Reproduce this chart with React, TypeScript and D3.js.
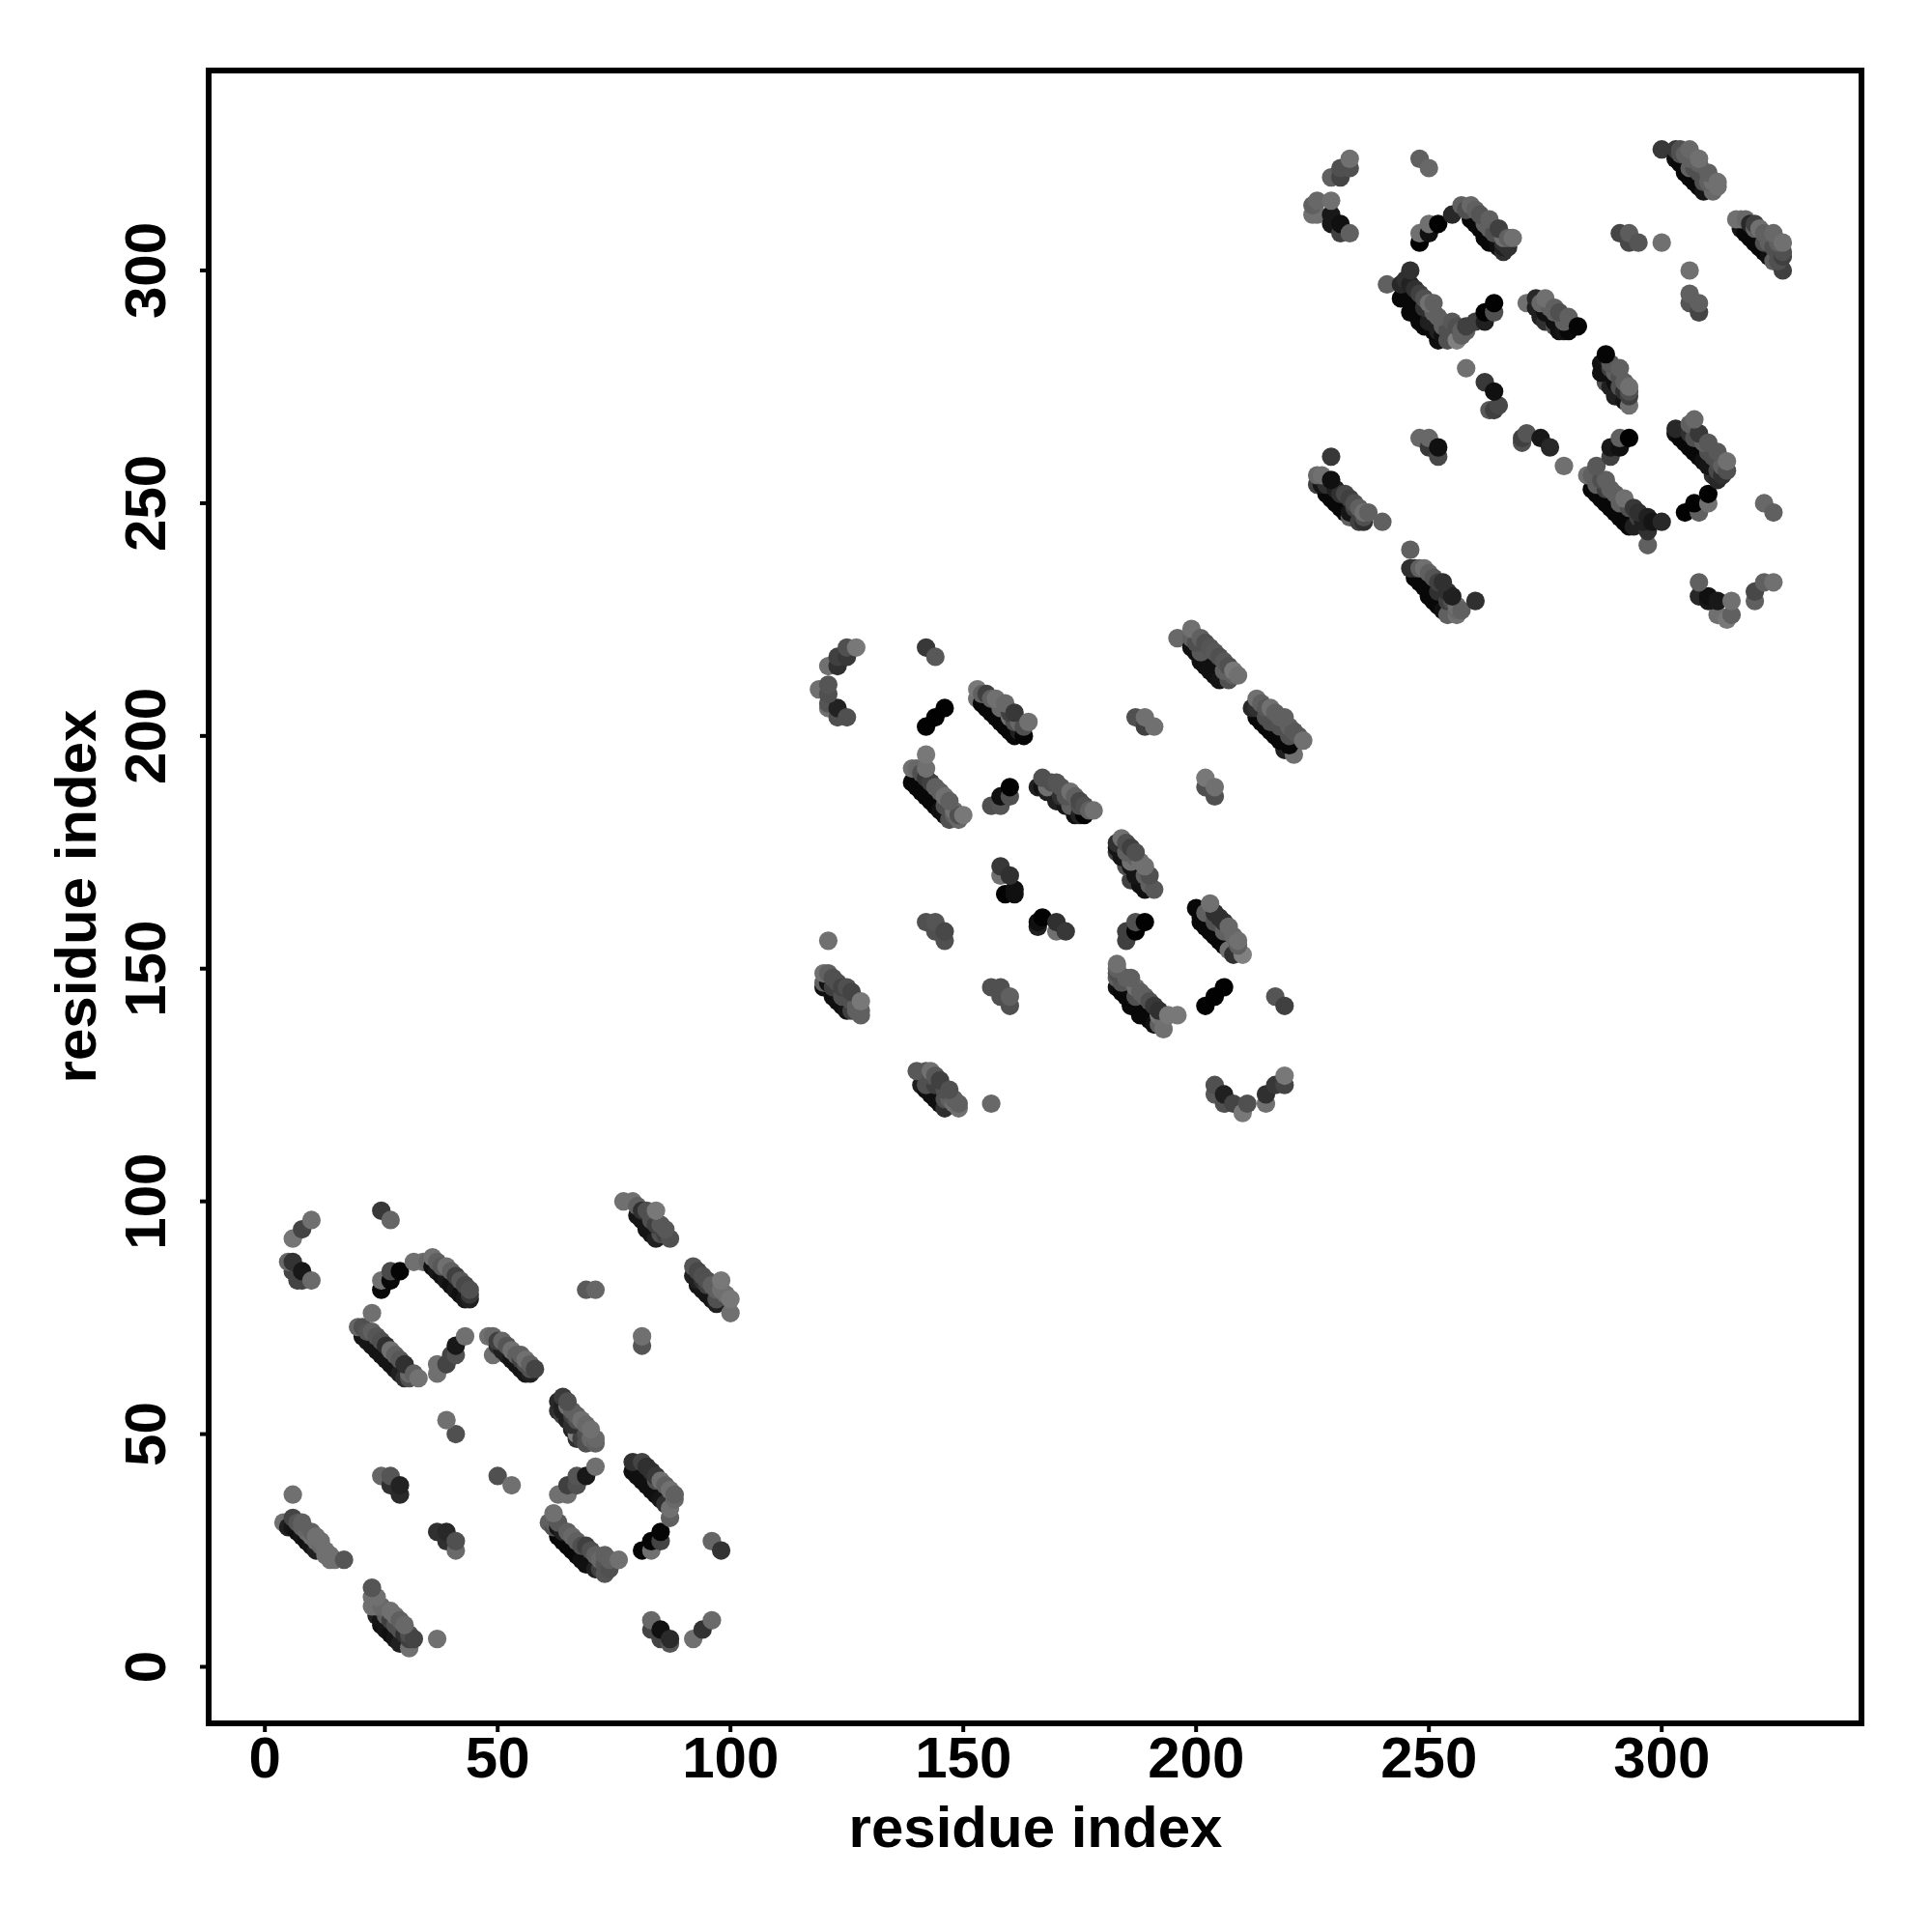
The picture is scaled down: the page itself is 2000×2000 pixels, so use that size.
import React from "react";
import * as d3 from "d3";

type P = [number, number, number];

const tickValues = [0, 50, 100, 150, 200, 250, 300];
const axisTitle = "residue index";

// [residue x, residue y, gray level]
const domainA: P[] = [
[10,96,0x70],[8,94,0x44],[6,92,0x75],[5,87,0x66],[6,87,0x33],[6,85,0x44],[7,83,0x44],[8,83,0x44],[8,85,0x18],[10,83,0x6a],
[25,98,0x38],[27,96,0x66],
[25,81,0x08],[25,83,0x70],[27,83,0x08],[27,85,0x4a],[29,85,0x05],[32,87,0x70],[34,87,0x70],[35,87,0x66],[36,88,0x70],
[36,86,0x10],[37,85,0x18],[38,84,0x10],[39,83,0x18],[40,82,0x10],[41,81,0x18],[42,80,0x10],[43,79,0x18],[44,79,0x20],
[37,87,0x60],[38,86,0x58],[39,86,0x70],[40,85,0x60],[41,84,0x40],[42,83,0x58],[43,82,0x48],[44,81,0x50],[44,80,0x38],
[23,76,0x70],[20,73,0x66],[21,73,0x50],[21,71,0x15],[22,70,0x15],[23,69,0x15],[24,68,0x15],[25,67,0x15],[26,66,0x15],[27,65,0x15],[28,64,0x15],[29,63,0x20],[30,62,0x30],[31,62,0x50],
[22,72,0x55],[23,72,0x60],[24,71,0x55],[25,70,0x50],[26,69,0x30],[27,68,0x70],[28,67,0x60],[29,66,0x58],[30,65,0x30],[31,63,0x68],[32,63,0x60],[33,62,0x72],
[37,63,0x70],[37,65,0x70],[39,65,0x44],[40,67,0x44],[41,67,0x50],[41,69,0x18],[43,71,0x70],
[48,71,0x70],[49,71,0x68],[49,67,0x70],[50,69,0x30],[52,67,0x20],[54,65,0x15],[56,63,0x18],[57,63,0x20],[51,70,0x66],[53,68,0x70],[55,66,0x40],[56,66,0x70],[58,64,0x44],
[50,70,0x40],[51,68,0x20],[53,66,0x15],[55,64,0x15],[56,65,0x50],[57,64,0x50],[52,69,0x55],[54,67,0x60],[55,67,0x60],[57,65,0x60],
[64,58,0x3a],[63,57,0x28],[63,55,0x30],[65,56,0x70],[64,54,0x40],[66,52,0x30],[68,53,0x70],[70,51,0x70],[67,50,0x80],[71,49,0x68],[69,50,0x50],[66,54,0x40],[67,53,0x50],
[64,56,0x20],[64,55,0x20],[65,53,0x20],[66,51,0x20],[67,49,0x30],[68,49,0x40],[69,48,0x50],[65,57,0x50],[66,55,0x60],[67,54,0x60],[69,52,0x68],[70,49,0x68],[71,48,0x60],
[39,53,0x70],[41,50,0x50],
[71,43,0x70],[69,41,0x18],[67,41,0x55],[67,39,0x50],[65,39,0x40],[63,37,0x70],[65,37,0x70],
[79,44,0x30],[81,44,0x44],[79,42,0x10],[81,40,0x10],[83,38,0x10],[85,36,0x15],[83,42,0x30],[84,41,0x38],[85,40,0x70],[87,38,0x70],[88,36,0x68],[87,34,0x70],[87,32,0x60],
[80,41,0x10],[82,39,0x10],[84,37,0x10],[86,35,0x30],[82,43,0x30],[84,40,0x50],[86,39,0x60],[88,37,0x60],
[81,25,0x05],[83,25,0x70],[83,27,0x05],[85,27,0x44],[85,29,0x05],
[96,27,0x66],[98,25,0x33],
[62,33,0x70],[62,31,0x60],[61,31,0x60],[63,31,0x58],[63,28,0x05],[65,26,0x08],[67,24,0x08],[69,22,0x10],[71,21,0x20],[64,29,0x20],[66,28,0x68],[67,27,0x60],[69,26,0x40],[70,25,0x50],[72,23,0x68],[73,22,0x55],[73,20,0x55],[76,23,0x70],
[62,30,0x50],[63,30,0x15],[64,27,0x08],[66,25,0x08],[68,23,0x10],[65,29,0x60],[68,26,0x50],[71,24,0x60],[72,21,0x40],[74,21,0x50],[74,23,0x60],[73,24,0x60],
[50,41,0x50],[53,39,0x70],
[25,41,0x66],[27,41,0x55],[27,39,0x30],[29,39,0x22],[29,37,0x2a],
[37,29,0x30],[39,29,0x28],[39,27,0x30],[41,27,0x50],[41,25,0x6a],
[6,37,0x70],
[4,31,0x70],[6,32,0x44],[6,30,0x15],[8,28,0x15],[10,26,0x15],[7,31,0x55],[8,30,0x60],[9,29,0x68],[10,28,0x70],[11,28,0x70],[12,27,0x70],[13,25,0x70],[14,24,0x70],[15,23,0x70],[17,23,0x55],
[5,30,0x20],[7,29,0x10],[9,27,0x10],[11,25,0x20],[8,31,0x60],[10,29,0x60],[12,26,0x68],[13,24,0x70],[14,23,0x70],[11,27,0x70],
[23,17,0x55],[23,15,0x70],[23,13,0x70],[24,13,0x70],[25,10,0x15],[26,8,0x15],[28,6,0x15],[30,5,0x20],[25,13,0x68],[27,12,0x70],[28,11,0x70],[29,10,0x60],[30,9,0x68],[31,7,0x50],[31,4,0x70],[32,6,0x44],[37,6,0x70],
[24,11,0x20],[25,9,0x10],[27,7,0x10],[29,5,0x20],[26,11,0x60],[27,10,0x40],[28,9,0x50],[29,8,0x50],[30,7,0x30],[31,6,0x40],[24,15,0x70],
[83,10,0x68],[83,8,0x44],[85,6,0x44],[85,8,0x10],[87,5,0x55],[87,6,0x2a],[92,6,0x70],[94,8,0x33],[96,10,0x6a],
[77,100,0x70],[79,100,0x70],[80,99,0x60],[80,97,0x15],[82,95,0x15],[83,93,0x15],[81,98,0x30],[84,98,0x78],[83,96,0x50],[85,95,0x58],[86,93,0x40],[87,92,0x50],
[81,96,0x15],[82,94,0x15],[84,92,0x20],[82,98,0x50],[85,93,0x50],[84,95,0x40],[86,94,0x58],
[69,81,0x5a],[71,81,0x66],[81,71,0x70],[81,69,0x55],
[92,86,0x55],[93,85,0x48],[93,83,0x20],[94,81,0x15],[96,79,0x15],[94,84,0x50],[95,83,0x50],[96,82,0x60],[98,83,0x78],[99,80,0x70],[100,79,0x78],[100,76,0x70],
[92,84,0x20],[93,82,0x15],[95,80,0x15],[97,78,0x20],[94,83,0x30],[95,82,0x40],[97,81,0x60],[98,81,0x70],[97,79,0x50],
];

const domainB: P[] = [
[127,219,0x78],[125,219,0x50],[123,217,0x40],[125,217,0x38],[121,215,0x70],[123,215,0x30],
[119,210,0x70],[121,211,0x55],[121,209,0x50],[121,207,0x55],[121,206,0x70],[123,206,0x22],[123,204,0x50],[125,204,0x50],
[142,219,0x38],[144,217,0x58],
[142,202,0x02],[144,204,0x02],[146,206,0x02],
[153,210,0x78],[153,208,0x70],[155,206,0x08],[157,204,0x08],[159,202,0x08],[161,200,0x08],[163,200,0x05],[155,209,0x40],[157,208,0x70],[159,207,0x68],[161,205,0x38],[162,203,0x68],[164,203,0x70],
[154,207,0x08],[156,205,0x08],[158,203,0x08],[160,201,0x08],[156,208,0x60],[158,206,0x68],[160,205,0x40],[160,204,0x70],[161,203,0x50],[162,201,0x20],[163,202,0x50],[154,209,0x60],
[139,193,0x70],[140,193,0x68],[139,190,0x08],[141,188,0x08],[143,186,0x08],[145,184,0x10],[142,196,0x78],[142,193,0x70],[142,191,0x38],[144,189,0x60],[146,187,0x70],[147,182,0x50],[148,184,0x70],[149,182,0x68],[150,183,0x78],
[140,189,0x08],[142,187,0x08],[144,185,0x08],[146,183,0x10],[141,192,0x50],[143,190,0x40],[145,188,0x60],[146,185,0x50],[147,186,0x60],[148,183,0x60],[149,183,0x50],
[160,189,0x02],[158,187,0x10],[160,187,0x50],[156,185,0x50],[158,185,0x55],
[166,189,0x20],[167,191,0x50],[168,189,0x70],[170,190,0x55],[171,187,0x30],[173,188,0x70],[173,185,0x60],[175,183,0x22],[175,186,0x48],[176,183,0x02],[178,184,0x70],
[167,189,0x10],[168,188,0x20],[170,186,0x20],[172,185,0x15],[174,183,0x10],[169,190,0x50],[171,189,0x55],[172,187,0x55],[174,187,0x60],[175,185,0x50],[176,185,0x50],[177,184,0x60],
[183,177,0x30],[183,175,0x40],[184,178,0x70],[185,172,0x50],[186,176,0x40],[186,169,0x40],[188,173,0x70],[189,167,0x10],[190,170,0x50],[191,167,0x58],
[183,176,0x15],[184,174,0x15],[186,172,0x15],[187,170,0x15],[188,168,0x10],[185,177,0x50],[187,175,0x50],[187,174,0x60],[189,172,0x70],[189,170,0x60],[190,168,0x60],[185,175,0x60],[186,173,0x70],
[158,172,0x38],[158,170,0x70],[160,170,0x30],[159,166,0x02],[161,167,0x10],[161,166,0x10],
[142,160,0x50],[144,160,0x55],[144,158,0x50],[146,158,0x48],[146,156,0x50],
[121,156,0x70],
[166,159,0x20],[166,160,0x10],[167,161,0x02],[170,158,0x70],[170,160,0x30],[172,158,0x38],
[185,156,0x40],[185,158,0x40],[187,160,0x50],[187,158,0x02],[189,160,0x02],
[200,163,0x08],[201,160,0x08],[203,158,0x08],[205,156,0x08],[202,162,0x60],[203,164,0x70],[205,161,0x30],[207,159,0x68],[207,154,0x70],[209,156,0x70],[210,153,0x80],
[201,161,0x08],[202,159,0x08],[204,157,0x08],[206,155,0x08],[208,153,0x30],[204,162,0x30],[206,160,0x30],[208,157,0x68],[206,158,0x60],[209,155,0x60],[204,160,0x50],
[202,142,0x02],[204,144,0x02],[206,146,0x02],
[217,144,0x55],[219,142,0x40],
[183,151,0x70],[183,150,0x60],[183,148,0x60],[183,146,0x10],[185,144,0x08],[188,141,0x08],[190,139,0x08],[184,147,0x55],[186,148,0x60],[187,146,0x70],[189,144,0x60],[191,142,0x38],[193,137,0x70],[192,140,0x78],[194,140,0x78],[196,140,0x78],
[184,145,0x08],[186,142,0x08],[188,140,0x08],[191,138,0x10],[185,148,0x60],[187,144,0x50],[188,145,0x60],[190,143,0x50],[192,141,0x30],[193,139,0x70],[183,149,0x50],[192,138,0x60],
[204,125,0x50],[204,123,0x58],[206,123,0x20],[206,121,0x50],[208,121,0x44],[210,119,0x78],[211,121,0x50],[215,121,0x70],[215,123,0x30],[217,125,0x38],[219,125,0x44],[219,127,0x78],
[120,149,0x70],[121,149,0x60],[120,147,0x60],[120,146,0x10],[122,144,0x10],[124,142,0x10],[122,148,0x50],[124,146,0x44],[126,145,0x44],[128,140,0x60],[128,143,0x78],
[121,147,0x10],[123,143,0x10],[125,141,0x15],[122,146,0x40],[123,147,0x50],[124,144,0x50],[125,146,0x50],[126,143,0x50],[127,142,0x60],[127,141,0x60],[128,141,0x60],[126,141,0x40],
[156,146,0x50],[158,146,0x50],[158,144,0x50],[160,144,0x60],[160,142,0x50],
[140,128,0x58],[142,128,0x58],[143,128,0x70],[142,125,0x50],[141,125,0x20],[143,123,0x10],[145,121,0x10],[145,126,0x40],[147,124,0x50],[148,121,0x70],[149,120,0x70],
[142,124,0x10],[144,122,0x10],[146,120,0x30],[143,127,0x50],[144,125,0x40],[146,124,0x50],[146,122,0x50],[147,122,0x60],[148,122,0x60],[149,121,0x60],[144,127,0x58],
[156,121,0x68],
[187,204,0x50],[189,204,0x70],[189,202,0x40],[191,202,0x70],
[202,191,0x78],[202,189,0x50],[204,189,0x70],[204,187,0x50],
[196,221,0x68],[199,223,0x70],[199,221,0x60],[200,218,0x10],[202,215,0x10],[204,213,0x10],[201,221,0x60],[201,218,0x58],[203,219,0x55],[206,216,0x58],[207,212,0x50],[208,214,0x78],
[199,219,0x10],[201,216,0x10],[203,214,0x10],[205,212,0x15],[202,220,0x50],[204,218,0x58],[205,217,0x50],[206,214,0x60],[207,215,0x50],[208,213,0x60],[209,213,0x70],[200,220,0x50],
[213,208,0x70],[212,206,0x28],[213,204,0x08],[215,202,0x08],[217,200,0x08],[220,198,0x08],[216,206,0x70],[219,204,0x60],[221,196,0x70],[221,201,0x58],[223,199,0x70],
[213,206,0x30],[214,203,0x08],[216,201,0x08],[218,199,0x08],[219,197,0x20],[214,207,0x60],[215,206,0x58],[217,205,0x60],[218,204,0x60],[220,202,0x60],[222,200,0x58],[218,202,0x50],[220,200,0x50],[215,204,0x50],[216,203,0x50],
];

const domainC: P[] = [
[233,324,0x70],[231,322,0x50],[233,322,0x50],[229,320,0x60],[231,320,0x44],
[225,314,0x60],[226,315,0x68],[229,315,0x70],[225,312,0x70],[226,312,0x70],[229,312,0x18],[229,310,0x18],[231,310,0x10],[231,308,0x40],[233,308,0x60],
[248,324,0x60],[250,322,0x68],
[248,306,0x02],[248,308,0x70],[250,308,0x10],[250,310,0x70],[252,310,0x02],[255,312,0x28],[257,314,0x60],[259,314,0x68],
[259,311,0x08],[261,309,0x08],[263,306,0x08],[265,305,0x10],[260,313,0x60],[263,311,0x60],[265,309,0x40],[266,304,0x30],[266,307,0x70],[268,307,0x70],
[260,310,0x08],[262,307,0x08],[264,306,0x08],[261,312,0x55],[262,310,0x60],[264,308,0x50],[265,306,0x10],[266,306,0x30],[267,305,0x30],[267,307,0x60],[263,309,0x60],[258,313,0x50],[266,305,0x20],
[264,291,0x50],[264,293,0x02],[262,289,0x20],[262,291,0x02],[260,289,0x40],[258,287,0x60],
[241,297,0x60],[246,300,0x30],[244,297,0x28],[246,297,0x22],[244,294,0x08],[246,291,0x08],[248,289,0x08],[251,287,0x08],[252,285,0x10],[248,295,0x40],[250,293,0x70],[251,291,0x60],[254,287,0x50],[255,289,0x58],[256,285,0x80],[257,287,0x60],
[245,295,0x08],[247,292,0x08],[249,288,0x08],[250,288,0x08],[253,286,0x10],[245,298,0x30],[247,296,0x30],[249,294,0x50],[249,292,0x30],[251,293,0x60],[252,290,0x60],[253,288,0x60],[256,288,0x50],[254,285,0x50],[257,286,0x60],[258,288,0x40],[250,289,0x20],[252,287,0x20],
[258,279,0x70],[262,276,0x38],[264,274,0x10],[263,270,0x58],[264,270,0x40],[265,271,0x48],
[271,293,0x70],[273,294,0x28],[275,294,0x70],[273,292,0x20],[274,293,0x68],[277,292,0x60],[274,290,0x20],[275,289,0x30],[280,290,0x60],[277,288,0x50],[279,287,0x15],[280,287,0x08],[282,288,0x05],
[275,291,0x10],[277,289,0x10],[278,287,0x10],[276,292,0x60],[278,291,0x50],[279,289,0x60],[277,291,0x60],
[288,282,0x05],[287,280,0x10],[287,278,0x10],[289,280,0x58],[288,276,0x50],[291,277,0x50],[289,275,0x20],[290,273,0x20],[293,275,0x70],[293,273,0x40],[293,271,0x70],[292,272,0x15],
[288,281,0x15],[289,278,0x10],[290,276,0x10],[289,279,0x40],[291,279,0x60],[290,278,0x60],[292,276,0x60],[293,274,0x50],[291,275,0x50],[292,274,0x30],
[248,264,0x68],[250,264,0x68],[250,262,0x38],[252,260,0x48],[252,262,0x10],
[229,260,0x38],
[226,256,0x68],[227,256,0x70],[226,254,0x40],[228,252,0x08],[230,250,0x08],[232,248,0x08],[229,255,0x10],[230,253,0x20],[232,252,0x48],[233,247,0x60],[234,250,0x50],[236,246,0x30],[236,248,0x70],
[227,254,0x15],[229,251,0x08],[231,249,0x08],[233,248,0x15],[235,246,0x40],[228,254,0x30],[231,252,0x30],[233,251,0x40],[234,249,0x40],[235,249,0x60],[237,248,0x60],[236,247,0x50],
[240,246,0x60],[246,240,0x60],
[246,236,0x30],[248,233,0x08],[250,230,0x08],[252,228,0x08],[248,236,0x60],[249,236,0x70],[251,234,0x55],[253,233,0x30],[254,226,0x60],[255,230,0x20],[256,228,0x70],[256,227,0x68],
[247,234,0x08],[249,232,0x08],[251,229,0x08],[253,227,0x10],[250,235,0x60],[252,233,0x40],[252,231,0x30],[254,231,0x30],[255,229,0x50],[254,229,0x40],[257,227,0x60],[256,226,0x70],[247,236,0x30],
[260,229,0x30],
[270,263,0x50],[270,264,0x40],[271,265,0x55],[274,264,0x18],[276,262,0x28],[279,258,0x70],
[289,260,0x40],[289,262,0x18],[291,262,0x10],[291,264,0x60],[293,264,0x02],
[284,256,0x70],[285,253,0x08],[287,251,0x08],[289,249,0x08],[291,247,0x08],[293,245,0x08],[286,258,0x58],[286,254,0x60],[288,255,0x60],[290,252,0x60],[292,251,0x70],[294,249,0x38],[297,241,0x60],[297,244,0x30],[297,247,0x20],[300,246,0x28],
[286,252,0x08],[288,250,0x08],[290,248,0x08],[292,246,0x08],[294,245,0x20],[287,255,0x50],[289,253,0x60],[288,253,0x40],[291,250,0x60],[293,249,0x50],[295,248,0x30],[296,246,0x20],[295,247,0x40],[298,246,0x15],[285,256,0x60],
[300,326,0x38],[303,326,0x38],[304,323,0x08],[306,320,0x08],[308,318,0x08],[304,326,0x50],[306,326,0x68],[308,324,0x70],[310,321,0x60],[311,317,0x68],[312,319,0x70],
[303,324,0x10],[305,321,0x08],[307,319,0x08],[309,317,0x15],[304,325,0x50],[306,324,0x60],[306,322,0x60],[307,322,0x50],[308,321,0x50],[309,319,0x50],[310,319,0x60],[311,319,0x70],[305,325,0x60],[308,323,0x60],[312,318,0x70],
[291,308,0x45],[293,308,0x5c],[293,306,0x48],[295,306,0x55],[300,306,0x70],
[306,300,0x70],[306,295,0x60],[306,293,0x55],[308,293,0x60],[308,291,0x45],
[316,311,0x70],[317,311,0x70],[318,311,0x68],[318,308,0x08],[320,306,0x08],[322,304,0x08],[319,310,0x28],[321,309,0x70],[324,302,0x60],[324,308,0x68],[326,300,0x40],[326,304,0x50],[326,306,0x70],
[317,309,0x15],[319,307,0x08],[321,305,0x08],[323,303,0x10],[320,309,0x60],[320,310,0x40],[322,308,0x60],[323,306,0x60],[325,304,0x50],[324,305,0x50],[325,302,0x50],[326,303,0x40],[322,306,0x50],[325,306,0x60],
[303,266,0x28],[304,264,0x08],[306,262,0x08],[308,260,0x08],[306,267,0x60],[307,268,0x68],[308,265,0x38],[310,263,0x58],[312,255,0x28],[312,257,0x48],[312,261,0x58],[314,257,0x50],[314,259,0x70],
[303,265,0x10],[305,263,0x08],[307,261,0x08],[309,259,0x10],[306,265,0x30],[307,264,0x50],[309,263,0x60],[310,261,0x50],[311,260,0x50],[312,259,0x50],[313,258,0x60],[310,258,0x15],[311,256,0x30],[313,256,0x30],
[305,248,0x02],[308,248,0x60],[307,250,0x02],[310,250,0x70],[310,252,0x02],
[322,250,0x68],[324,248,0x60],
[308,233,0x60],[308,230,0x28],[310,229,0x18],[310,230,0x10],[312,229,0x18],[312,226,0x70],[314,225,0x78],[315,226,0x60],[315,229,0x70],[320,229,0x60],[320,231,0x48],[322,233,0x60],[324,233,0x70],
];

const x = d3.scaleLinear().domain([0, 300]).range([274.2, 1720.2]);
const y = d3.scaleLinear().domain([0, 300]).range([1725.5, 280]);
const font = "'Liberation Sans', Arial, sans-serif";
const frame = { l: 216, r: 1927, t: 73, b: 1784 };
const grayOf = (g: number) => d3.rgb(g, g, g).formatHex();

export default function App() {
  const points = [...domainA, ...domainB, ...domainC].sort(
    (a, b) => d3.ascending(a[0] + a[1], b[0] + b[1]) || d3.ascending(a[0], b[0])
  );
  return (
    <svg width={2000} height={2000} style={{ position: "absolute", left: 0, top: 0, background: "#fff" }}>
      {points.map((p, i) => (
        <circle key={i} cx={x(p[0])} cy={y(p[1])} r={9.6} fill={grayOf(p[2])} />
      ))}
      <rect x={frame.l} y={frame.t} width={frame.r - frame.l} height={frame.b - frame.t} fill="none" stroke="#000" strokeWidth={6} />
      {tickValues.map((t) => (
        <g key={t}>
          <line x1={x(t)} x2={x(t)} y1={frame.b} y2={frame.b + 9} stroke="#000" strokeWidth={4} />
          <line y1={y(t)} y2={y(t)} x1={frame.l} x2={frame.l - 9} stroke="#000" strokeWidth={4} />
          <text x={x(t)} y={1840} textAnchor="middle" fontFamily={font} fontWeight="bold" fontSize={60}>{t}</text>
          <text transform={`translate(171,${y(t)}) rotate(-90)`} textAnchor="middle" fontFamily={font} fontWeight="bold" fontSize={60}>{t}</text>
        </g>
      ))}
      <text x={1072} y={1912} textAnchor="middle" fontFamily={font} fontWeight="bold" fontSize={60}>{axisTitle}</text>
      <text transform="translate(99,928) rotate(-90)" textAnchor="middle" fontFamily={font} fontWeight="bold" fontSize={60}>{axisTitle}</text>
    </svg>
  );
}
